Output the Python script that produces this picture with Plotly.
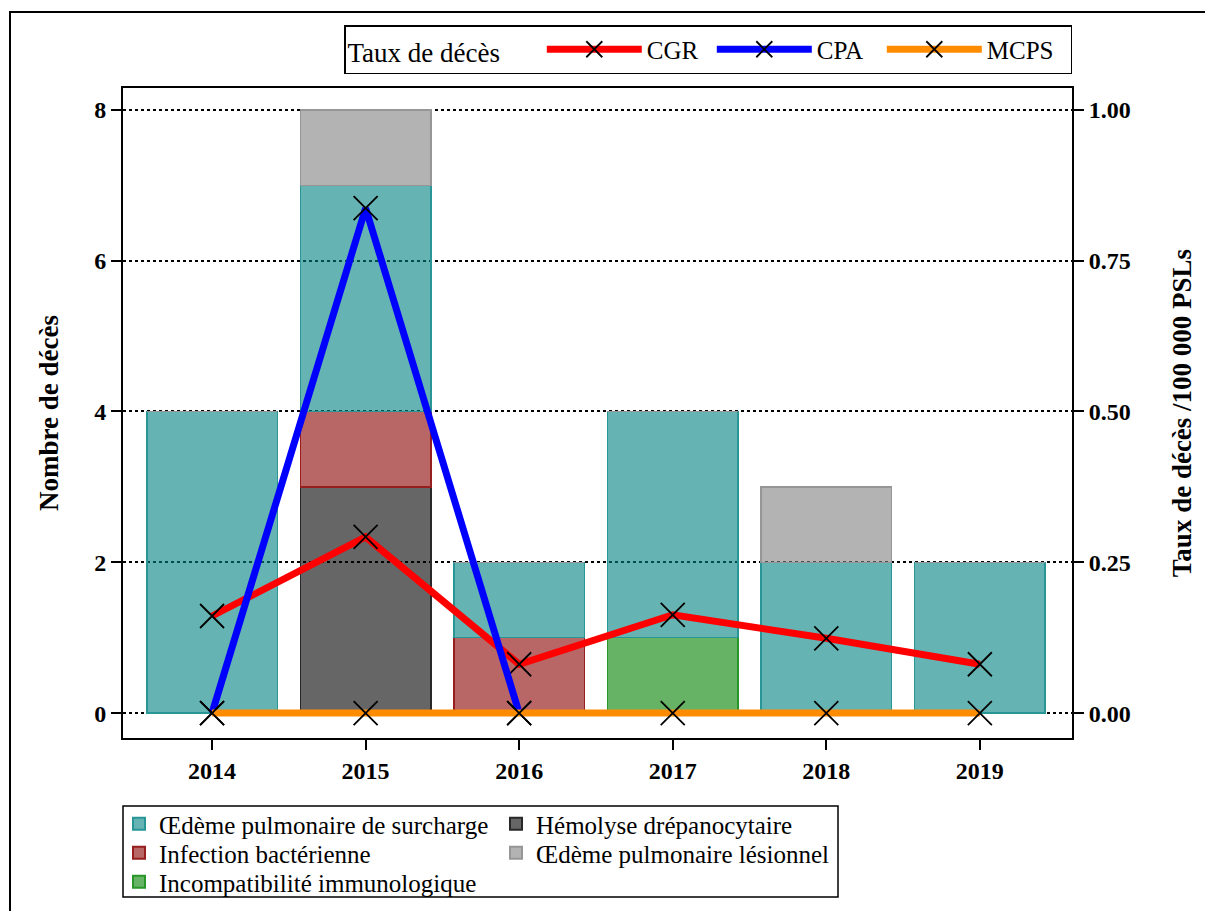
import plotly.graph_objects as go

years = [2014, 2015, 2016, 2017, 2018, 2019]

# Stacked bar counts (Nombre de décès)
hemolyse = [0, 3, 0, 0, 0, 0]
infection = [0, 1, 1, 0, 0, 0]
incompat = [0, 0, 0, 1, 0, 0]
oedeme_surcharge = [4, 3, 1, 3, 2, 2]
oedeme_lesionnel = [0, 1, 0, 0, 1, 0]

# Rates (Taux de décès /100 000 PSLs)
cgr = [0.161, 0.292, 0.081, 0.163, 0.124, 0.081]
cpa_years = [2014, 2015, 2016]
cpa = [0.0, 0.837, 0.0]
mcps = [0, 0, 0, 0, 0, 0]

FONT = "Liberation Serif"

fig = go.Figure()

# (name, values, fill, edge, legend row, rank)
bars = [
    ("Hémolyse drépanocytaire", hemolyse, "rgba(0,0,0,0.6)", "rgb(40,40,40)", "legend2", 2),
    ("Infection bactérienne", infection, "rgba(139,0,0,0.6)", "rgb(150,30,30)", "legend3", 1),
    ("Incompatibilité immunologique", incompat, "rgba(0,128,0,0.6)", "rgb(40,150,40)", "legend4", 1),
    ("Œdème pulmonaire de surcharge", oedeme_surcharge, "rgba(0,128,128,0.6)", "rgb(40,150,150)", "legend2", 1),
    ("Œdème pulmonaire lésionnel", oedeme_lesionnel, "rgba(128,128,128,0.6)", "rgb(150,150,150)", "legend3", 2),
]
for name, vals, fill, edge, leg, rank in bars:
    fig.add_trace(go.Bar(
        x=years, y=vals, name=name, width=0.85,
        marker=dict(color=fill, line=dict(color=edge, width=1.5)),
        legend=leg, legendrank=rank, yaxis="y",
    ))

# (name, x, values, colour, legend entry width)
lines = [
    ("CGR", years, cgr, "#ff0000", 60),
    ("CPA", cpa_years, cpa, "#0000ff", 60),
    ("MCPS", years, mcps, "#ff8c00", 78),
]
for name, xs, vals, col, lw in lines:
    fig.add_trace(go.Scatter(
        x=xs, y=vals, name=name, mode="lines+markers", yaxis="y2",
        line=dict(color=col, width=7),
        marker=dict(symbol="x-thin-open", size=24, color="black",
                    line=dict(color="black", width=1.8)),
        cliponaxis=False, legend="legend", legendwidth=lw,
    ))

TICKFONT = dict(family=FONT, size=24, weight="bold")


def px_x(p):
    return (p - 123) / 949


def px_y(p):
    return (738 - p) / 650


def row_legend(ycenter):
    return dict(
        orientation="h", x=px_x(119), xanchor="left", y=px_y(ycenter), yanchor="middle",
        bgcolor="rgba(0,0,0,0)", borderwidth=0,
        font=dict(family=FONT, size=25),
        entrywidth=332, entrywidthmode="pixels", traceorder="normal",
        itemsizing="constant",
    )


fig.update_layout(
    width=1205, height=911,
    margin=dict(l=123, r=133, t=88, b=173, autoexpand=False),
    paper_bgcolor="white", plot_bgcolor="white",
    barmode="stack",
    font=dict(family=FONT, color="black", size=24),
    showlegend=True,
    xaxis=dict(
        range=[2013.42, 2019.6], tickvals=years, ticktext=[str(y) for y in years],
        showline=True, linecolor="black", linewidth=2, mirror=True,
        ticks="outside", ticklen=10, tickwidth=1.5, tickcolor="black",
        tickfont=TICKFONT, showgrid=False, zeroline=False,
    ),
    yaxis=dict(
        range=[-0.33, 8.29], tickvals=[0, 2, 4, 6, 8],
        showline=True, linecolor="black", linewidth=2,
        ticks="outside", ticklen=10, tickwidth=1.5, tickcolor="black",
        tickfont=TICKFONT,
        showgrid=True, gridcolor="black", gridwidth=2, griddash="dot",
        zeroline=False,
        title=dict(text="Nombre de décès", font=dict(family=FONT, size=27, weight="bold"), standoff=28),
    ),
    yaxis2=dict(
        range=[-0.04125, 1.03625], tickvals=[0, 0.25, 0.5, 0.75, 1.0], tickformat=".2f",
        overlaying="y", side="right",
        showline=True, linecolor="black", linewidth=2,
        ticks="outside", ticklen=10, tickwidth=1.5, tickcolor="black",
        tickfont=TICKFONT, showgrid=False, zeroline=False,
        title=dict(text="Taux de décès /100 000 PSLs", font=dict(family=FONT, size=27, weight="bold"), standoff=42),
    ),
    legend=dict(
        orientation="h", x=1.0, xanchor="right", y=px_y(25), yanchor="top",
        bordercolor="black", borderwidth=1.5, bgcolor="white",
        title=dict(text="Taux de décès     ", side="left", font=dict(family=FONT, size=27)),
        font=dict(family=FONT, size=25), itemwidth=95,
        entrywidth=60, entrywidthmode="pixels",
    ),
    legend2=row_legend(824),
    legend3=row_legend(853),
    legend4=row_legend(882),
    shapes=[
        dict(
            type="rect", xref="paper", yref="paper",
            x0=px_x(10), x1=px_x(1225), y0=px_y(935), y1=px_y(12),
            line=dict(color="black", width=2), fillcolor="rgba(0,0,0,0)", layer="below",
        ),
        dict(
            type="rect", xref="paper", yref="paper",
            x0=px_x(123), x1=px_x(838), y0=px_y(897), y1=px_y(806),
            line=dict(color="black", width=1.5), fillcolor="white", layer="below",
        ),
    ],
)

fig.write_html(
    "out.html",
    config={"displayModeBar": False},
    post_script="document.body.style.margin='0';document.body.style.overflow='hidden';",
)
